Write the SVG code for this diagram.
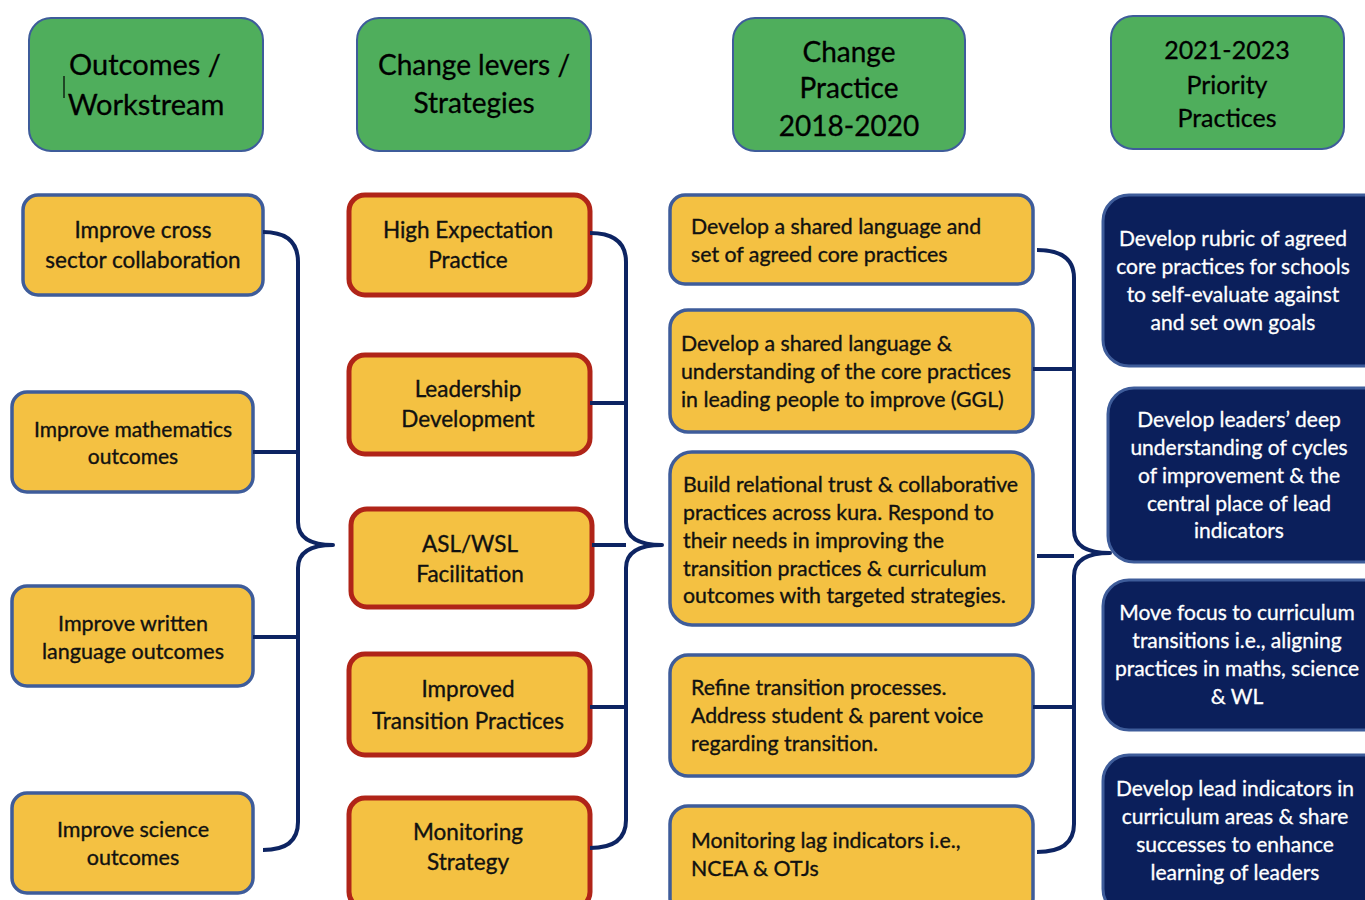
<svg xmlns="http://www.w3.org/2000/svg" width="1365" height="900" viewBox="0 0 1365 900">
<style>
.hdr{fill:#4FAE5C;stroke:#3E5C9A;stroke-width:2}
.ylb{fill:#F4C142;stroke:#3E5C9A;stroke-width:3.5}
.ylr{fill:#F4C142;stroke:#B02418;stroke-width:5}
.nv{fill:#0B1F5B;stroke:#3E5C9A;stroke-width:3}
.ht{font-family:Lato,"Open Sans",sans-serif;font-size:28px;fill:#000;stroke:#000;stroke-width:0.3;text-anchor:middle}
.t{font-family:Lato,"Open Sans",sans-serif;font-size:22.5px;fill:#111;stroke:#111;stroke-width:0.35;text-anchor:middle}
.t2{font-size:21px}
.tl{font-family:Lato,"Open Sans",sans-serif;font-size:21.3px;fill:#111;stroke:#111;stroke-width:0.35}
.tw{font-family:Lato,"Open Sans",sans-serif;font-size:21px;fill:#fff;stroke:#fff;stroke-width:0.3;text-anchor:middle}
.br{fill:none;stroke:#0D2462;stroke-width:4;stroke-linejoin:round}
</style>
<rect width="1365" height="900" fill="#fff"/>

<g id="h1"><rect class="hdr" x="29" y="18" width="234" height="133" rx="22"/>
<text class="ht" x="145" y="75" style="font-size:29px">Outcomes /</text><text class="ht" x="146" y="115" style="font-size:29px">Workstream</text>
<line x1="64" y1="76" x2="64" y2="98" stroke="#000" stroke-width="1.2"/></g>
<g id="h2"><rect class="hdr" x="357" y="18" width="234" height="133" rx="22"/>
<text class="ht" x="474" y="75">Change levers /</text><text class="ht" x="474" y="113">Strategies</text></g>
<g id="h3"><rect class="hdr" x="733" y="18" width="232" height="133" rx="22"/>
<text class="ht" x="849" y="62">Change</text><text class="ht" x="849" y="98">Practice</text><text class="ht" x="849" y="136">2018-2020</text></g>
<g id="h4"><rect class="hdr" x="1111" y="16" width="233" height="133" rx="22"/>
<text class="ht" x="1227" y="59" style="font-size:25px">2021-2023</text><text class="ht" x="1227" y="94" style="font-size:25px">Priority</text><text class="ht" x="1227" y="127" style="font-size:25px">Practices</text></g>

<g id="a1"><rect class="ylb" x="23" y="195" width="240" height="100" rx="15"/>
<text class="t" x="143" y="238">Improve cross</text><text class="t" x="143" y="268">sector collaboration</text></g>
<g id="a2"><rect class="ylb" x="12" y="392" width="241" height="100" rx="15"/>
<text class="t t2" x="133" y="437">Improve mathematics</text><text class="t t2" x="133" y="464">outcomes</text></g>
<g id="a3"><rect class="ylb" x="12" y="586" width="241" height="100" rx="15"/>
<text class="t" x="133" y="631" style="font-size:21.5px">Improve written</text><text class="t" x="133" y="659" style="font-size:21.5px">language outcomes</text></g>
<g id="a4"><rect class="ylb" x="12" y="793" width="241" height="100" rx="15"/>
<text class="t" x="133" y="837" style="font-size:21.5px">Improve science</text><text class="t" x="133" y="865" style="font-size:21.5px">outcomes</text></g>

<g id="b1"><rect class="ylr" x="349" y="195" width="241" height="100" rx="16"/>
<text class="t" x="468" y="238">High Expectation</text><text class="t" x="468" y="268">Practice</text></g>
<g id="b2"><rect class="ylr" x="349" y="355" width="241" height="99" rx="16"/>
<text class="t" x="468" y="397">Leadership</text><text class="t" x="468" y="427">Development</text></g>
<g id="b3"><rect class="ylr" x="351" y="509" width="241" height="98" rx="16"/>
<text class="t" x="470" y="552">ASL/WSL</text><text class="t" x="470" y="582">Facilitation</text></g>
<g id="b4"><rect class="ylr" x="349" y="654" width="241" height="101" rx="16"/>
<text class="t" x="468" y="697">Improved</text><text class="t" x="468" y="729">Transition Practices</text></g>
<g id="b5"><rect class="ylr" x="349" y="798" width="241" height="110" rx="16"/>
<text class="t" x="468" y="840">Monitoring</text><text class="t" x="468" y="870">Strategy</text></g>

<g id="c1"><rect class="ylb" x="670" y="195" width="363" height="89" rx="15"/>
<text class="tl" x="691" y="234">Develop a shared language and</text><text class="tl" x="691" y="262">set of agreed core practices</text></g>
<g id="c2"><rect class="ylb" x="670" y="310" width="363" height="122" rx="18"/>
<text class="tl" x="681" y="351">Develop a shared language &amp;</text><text class="tl" x="681" y="379">understanding of the core practices</text><text class="tl" x="681" y="407">in leading people to improve (GGL)</text></g>
<g id="c3"><rect class="ylb" x="670" y="452" width="363" height="173" rx="22"/>
<text class="tl" x="683" y="492">Build relational trust &amp; collaborative</text><text class="tl" x="683" y="520">practices across kura. Respond to</text><text class="tl" x="683" y="548">their needs in improving the</text><text class="tl" x="683" y="576">transition practices &amp; curriculum</text><text class="tl" x="683" y="603">outcomes with targeted strategies.</text></g>
<g id="c4"><rect class="ylb" x="670" y="655" width="363" height="121" rx="18"/>
<text class="tl" x="691" y="695">Refine transition processes.</text><text class="tl" x="691" y="723">Address student &amp; parent voice</text><text class="tl" x="691" y="751">regarding transition.</text></g>
<g id="c5"><rect class="ylb" x="670" y="806" width="363" height="110" rx="18"/>
<text class="tl" x="691" y="848">Monitoring lag indicators i.e.,</text><text class="tl" x="691" y="876">NCEA &amp; OTJs</text></g>

<g id="d1"><rect class="nv" x="1103" y="195" width="290" height="171" rx="26"/>
<text class="tw" x="1233" y="246">Develop rubric of agreed</text><text class="tw" x="1233" y="274">core practices for schools</text><text class="tw" x="1233" y="302">to self-evaluate against</text><text class="tw" x="1233" y="330">and set own goals</text></g>
<g id="d2"><rect class="nv" x="1108" y="388" width="290" height="174" rx="26"/>
<text class="tw" x="1239" y="427">Develop leaders’ deep</text><text class="tw" x="1239" y="455">understanding of cycles</text><text class="tw" x="1239" y="483">of improvement &amp; the</text><text class="tw" x="1239" y="511">central place of lead</text><text class="tw" x="1239" y="538">indicators</text></g>
<g id="d3"><rect class="nv" x="1103" y="580" width="290" height="150" rx="26"/>
<text class="tw" x="1237" y="620">Move focus to curriculum</text><text class="tw" x="1237" y="648">transitions i.e., aligning</text><text class="tw" x="1237" y="676">practices in maths, science</text><text class="tw" x="1237" y="704">&amp; WL</text></g>
<g id="d4"><rect class="nv" x="1103" y="755" width="290" height="160" rx="26"/>
<text class="tw" x="1235" y="796">Develop lead indicators in</text><text class="tw" x="1235" y="824">curriculum areas &amp; share</text><text class="tw" x="1235" y="852">successes to enhance</text><text class="tw" x="1235" y="880">learning of leaders</text></g>

<g id="connectors">
<path class="br" d="M263,232 Q298,232 298,262 L298,522 Q298,545 333,545 Q298,545 298,568 L298,822 Q298,850 263,850"/>
<path class="br" d="M253,452 H298 M253,637 H298"/>
<path class="br" d="M590,233 Q626,233 626,262 L626,522 Q626,545 662,545 Q626,545 626,568 L626,820 Q626,848 590,848"/>
<path class="br" d="M590,403 H626 M592,545 H626 M590,707 H626"/>
<path class="br" d="M1037,250 Q1074,250 1074,278 L1074,530 Q1074,553 1110,553 Q1074,553 1074,576 L1074,824 Q1074,852 1037,852"/>
<path class="br" d="M1033,369 H1074 M1037,556 H1074 M1033,707 H1074"/>
</g>
</svg>
